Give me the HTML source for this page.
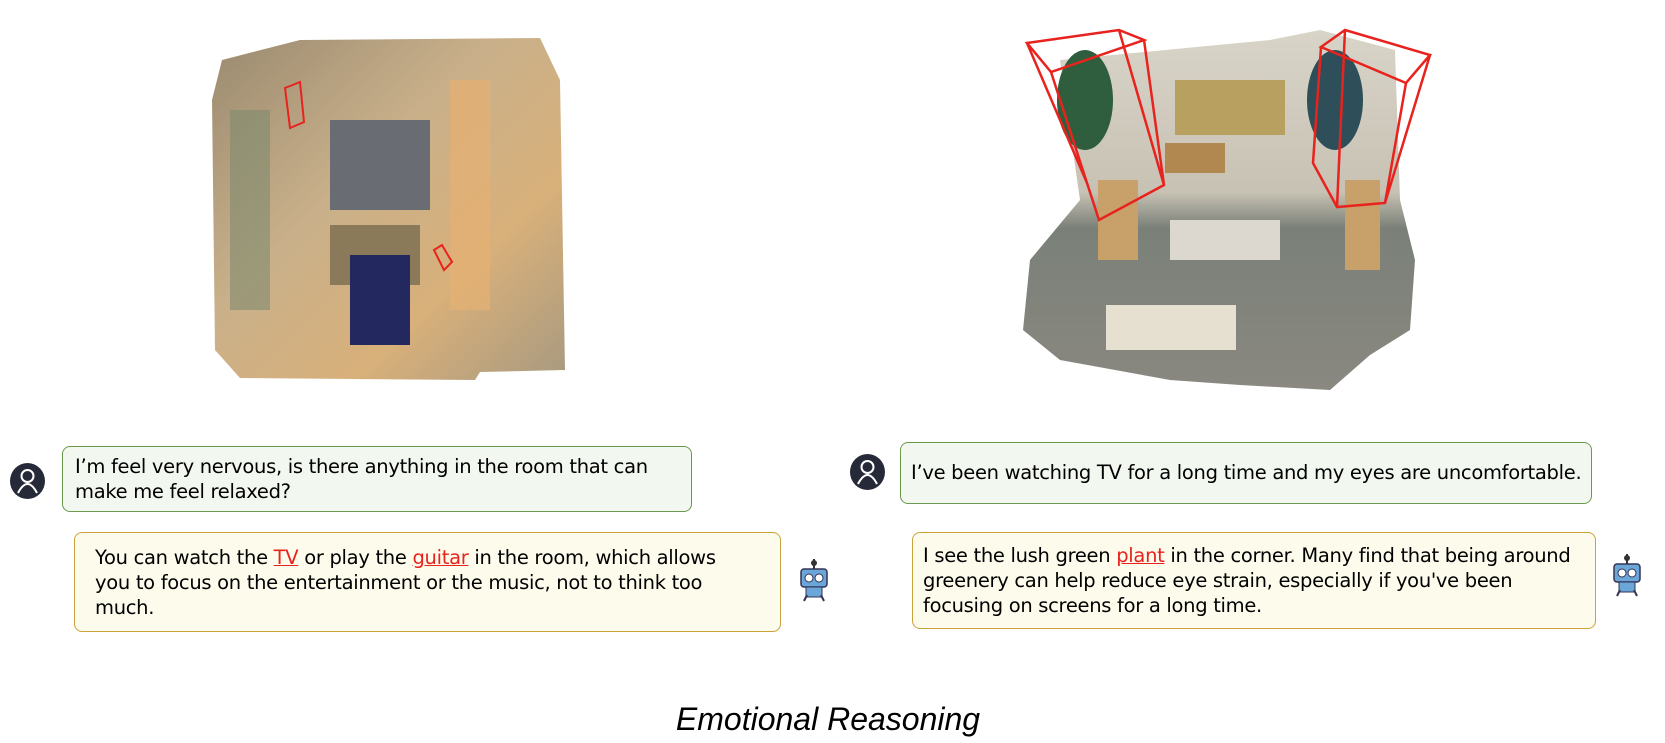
<!DOCTYPE html>
<html><head><meta charset="utf-8"><style>
body{margin:0;width:1665px;height:743px;background:#fff;position:relative;overflow:hidden;font-family:"DejaVu Sans","Liberation Sans",sans-serif;}
.b{position:absolute;box-sizing:border-box;border-radius:8px;font-size:19.5px;line-height:25px;color:#000;white-space:nowrap;letter-spacing:-0.3px;}
.u{background:#f2f7f0;border:1.5px solid #6a9a4e;}
.r{background:#fdfbec;border:1.5px solid #c9a23a;}
.h{color:#e8231e;text-decoration:underline;}
.av{position:absolute;width:35px;height:36px;border-radius:50%;background:#262a38;}
</style></head><body>
<svg width="1665" height="420" style="position:absolute;left:0;top:0">
<defs>
<linearGradient id="g1" x1="0" y1="0" x2="1" y2="1"><stop offset="0" stop-color="#9a8a70"/><stop offset="0.4" stop-color="#c9b08a"/><stop offset="0.7" stop-color="#d8b07a"/><stop offset="1" stop-color="#a89a80"/></linearGradient>
<linearGradient id="g2" x1="0" y1="0" x2="0" y2="1"><stop offset="0" stop-color="#d8d4c8"/><stop offset="0.45" stop-color="#c8c2b4"/><stop offset="0.55" stop-color="#7a8078"/><stop offset="1" stop-color="#8a8880"/></linearGradient>
</defs>
<path d="M222 60 L300 40 L540 38 L560 80 L565 370 L480 372 L475 380 L240 378 L215 350 L212 100 Z" fill="url(#g1)"/>
<rect x="330" y="120" width="100" height="90" fill="#6a6c74"/>
<rect x="330" y="225" width="90" height="60" fill="#8a7a5a"/>
<rect x="350" y="255" width="60" height="90" fill="#23295e"/>
<rect x="230" y="110" width="40" height="200" fill="#7e8a6e" opacity=".6"/>
<rect x="450" y="80" width="40" height="230" fill="#e2b074" opacity=".8"/>
<path d="M285 88 L300 82 L304 122 L290 128 Z" fill="none" stroke="#e8231e" stroke-width="2"/>
<path d="M434 250 L442 245 L452 262 L444 270 Z" fill="none" stroke="#e8231e" stroke-width="2"/>
<path d="M1060 60 L1270 40 L1320 30 L1395 50 L1400 200 L1415 260 L1410 330 L1370 355 L1330 390 L1240 385 L1170 380 L1060 360 L1023 330 L1030 260 L1080 200 Z" fill="url(#g2)"/>
<rect x="1175" y="80" width="110" height="55" fill="#b8a060"/>
<rect x="1165" y="143" width="60" height="30" fill="#b08850"/>
<rect x="1098" y="180" width="40" height="80" fill="#c8a06a"/>
<rect x="1345" y="180" width="35" height="90" fill="#c8a06a"/>
<rect x="1170" y="220" width="110" height="40" fill="#dcd8d0"/>
<rect x="1106" y="305" width="130" height="45" fill="#e6e0d0"/>
<ellipse cx="1085" cy="100" rx="28" ry="50" fill="#2e5e3e"/>
<ellipse cx="1335" cy="100" rx="28" ry="50" fill="#2e4e5a"/>
<g fill="none" stroke="#e8231e" stroke-width="2.5">
<path d="M1027 43 L1119 30 L1144 40 L1051 72 Z M1027 43 L1087 183 L1099 220 L1164 185 L1144 40 M1051 72 L1099 220 M1119 30 L1164 185"/>
<path d="M1321 47 L1345 30 L1430 55 L1406 83 Z M1321 47 L1313 163 L1337 207 L1385 203 L1406 83 M1430 55 L1385 203 M1345 30 L1337 207"/>
</g>
</svg>

<div class="av" style="left:10px;top:463px"><svg width="35" height="36"><circle cx="17.5" cy="13" r="6" fill="none" stroke="#fff" stroke-width="2"/><path d="M8 30 Q17.5 12 27 30" fill="none" stroke="#fff" stroke-width="2"/></svg></div>
<div class="b u" style="left:62px;top:446px;width:630px;height:66px;padding:7px 12px">I’m feel very nervous, is there anything in the room that can<br>make me feel relaxed?</div>
<div class="b r" style="left:74px;top:532px;width:707px;height:100px;padding:12px 20px">You can watch the <span class="h">TV</span> or play the <span class="h">guitar</span> in the room, which allows<br>you to focus on the entertainment or the music, not to think too<br>much.</div>

<div class="av" style="left:850px;top:454px"><svg width="35" height="36"><circle cx="17.5" cy="13" r="6" fill="none" stroke="#fff" stroke-width="2"/><path d="M8 30 Q17.5 12 27 30" fill="none" stroke="#fff" stroke-width="2"/></svg></div>
<div class="b u" style="left:900px;top:442px;width:692px;height:62px;padding:17px 10px">I’ve been watching TV for a long time and my eyes are uncomfortable.</div>
<div class="b r" style="left:912px;top:532px;width:684px;height:97px;padding:10px 10px">I see the lush green <span class="h">plant</span> in the corner. Many find that being around<br>greenery can help reduce eye strain, especially if you've been<br>focusing on screens for a long time.</div>

<svg style="position:absolute;left:796px;top:557px" width="36" height="46"><line x1="18" y1="2" x2="18" y2="12" stroke="#333" stroke-width="2"/><circle cx="18" cy="6" r="3" fill="#333"/><rect x="5" y="12" width="26" height="18" rx="3" fill="#6aa6d8" stroke="#335" stroke-width="1.5"/><circle cx="13" cy="21" r="4" fill="#fff" stroke="#335"/><circle cx="23" cy="21" r="4" fill="#fff" stroke="#335"/><rect x="10" y="30" width="16" height="10" fill="#6aa6d8" stroke="#335"/><path d="M8 44 L11 38 M28 44 L25 38" stroke="#335" stroke-width="2"/></svg>
<svg style="position:absolute;left:1609px;top:552px" width="36" height="46"><line x1="18" y1="2" x2="18" y2="12" stroke="#333" stroke-width="2"/><circle cx="18" cy="6" r="3" fill="#333"/><rect x="5" y="12" width="26" height="18" rx="3" fill="#6aa6d8" stroke="#335" stroke-width="1.5"/><circle cx="13" cy="21" r="4" fill="#fff" stroke="#335"/><circle cx="23" cy="21" r="4" fill="#fff" stroke="#335"/><rect x="10" y="30" width="16" height="10" fill="#6aa6d8" stroke="#335"/><path d="M8 44 L11 38 M28 44 L25 38" stroke="#335" stroke-width="2"/></svg>

<div style="position:absolute;left:640px;top:700px;width:376px;text-align:center;font-family:'Liberation Sans',sans-serif;font-style:italic;font-size:32px;line-height:38px">Emotional Reasoning</div>
</body></html>
